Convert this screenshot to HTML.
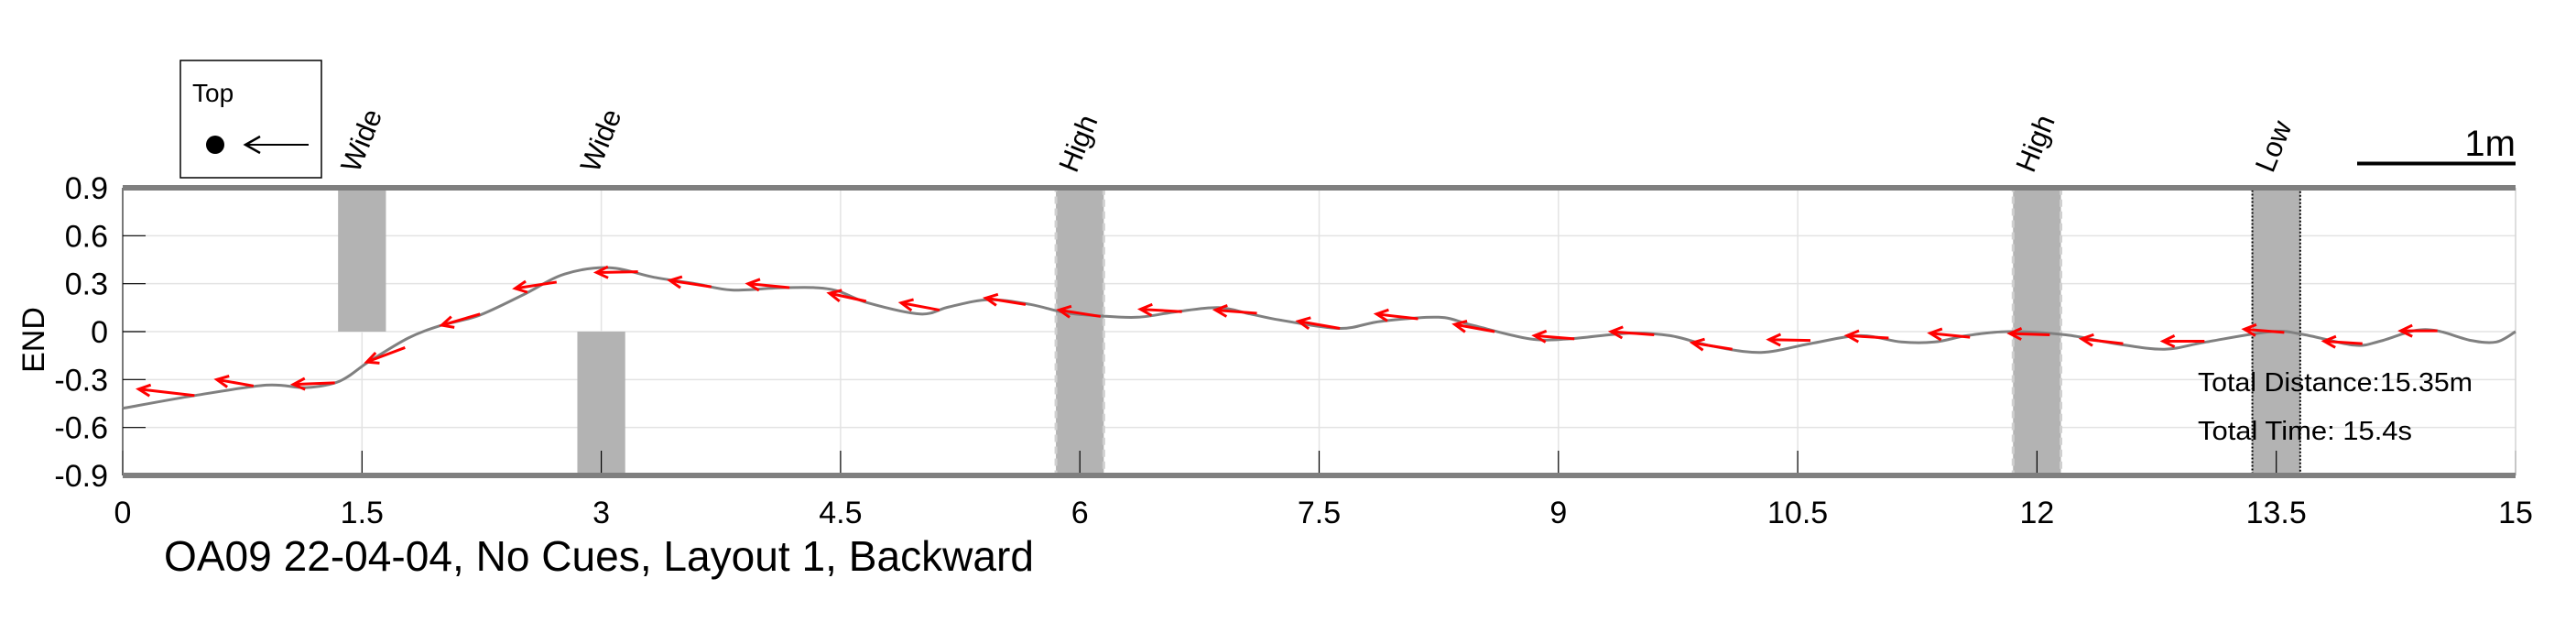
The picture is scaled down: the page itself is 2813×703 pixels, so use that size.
<!DOCTYPE html>
<html><head><meta charset="utf-8">
<style>
html,body{margin:0;padding:0;background:#fff;}
svg{display:block;}
text{font-family:"Liberation Sans Narrow","Liberation Sans",sans-serif;fill:#000;}
</style></head>
<body>
<svg id="chart" width="2813" height="703" viewBox="0 0 2813 703" xmlns="http://www.w3.org/2000/svg">
<g id="grid"></g>
<g id="zones"></g>
<g id="axes"></g>
<g id="series"></g>
<g id="arrows"></g>
<g>
  <rect x="197" y="66" width="154" height="128" fill="#fff" stroke="#000" stroke-width="1.5"/>
  <text x="210" y="111" font-size="28">Top</text>
  <circle cx="235" cy="158" r="10" fill="#000"/>
  <line x1="337" y1="158" x2="270" y2="158" stroke="#000" stroke-width="2"/>
  <path d="M284,149 L268,158 L284,167" fill="none" stroke="#000" stroke-width="2.5"/>
</g>
<g>
  <line x1="2574" y1="178.5" x2="2747" y2="178.5" stroke="#000" stroke-width="4"/>
  <text x="2747" y="170" font-size="40" text-anchor="end">1m</text>
</g>
<text transform="translate(48,371) rotate(-90)" font-size="34" text-anchor="middle">END</text>
<text x="179" y="623" font-size="46" textLength="950" lengthAdjust="spacingAndGlyphs">OA09 22-04-04, No Cues, Layout 1, Backward</text>
<text x="2400" y="427" font-size="29" textLength="300" lengthAdjust="spacingAndGlyphs">Total Distance:15.35m</text>
<text x="2400" y="480" font-size="29" textLength="234" lengthAdjust="spacingAndGlyphs">Total Time: 15.4s</text>
</svg>
<script>
const xTicks=[0,1.5,3,4.5,6,7.5,9,10.5,12,13.5,15];
const xTickLabels=["0","1.5","3","4.5","6","7.5","9","10.5","12","13.5","15"];
const yTicks=[0.9,0.6,0.3,0,-0.3,-0.6,-0.9];
const yTickLabels=["0.9","0.6","0.3","0","-0.3","-0.6","-0.9"];
const pathX=[0,0.45,0.9,1.15,1.36,1.54,1.79,2.0,2.23,2.51,2.77,3.05,3.33,3.59,3.82,4.15,4.44,4.67,5.0,5.18,5.43,5.69,5.9,6.1,6.36,6.61,6.87,7.07,7.27,7.63,7.89,8.25,8.46,8.82,9.07,9.44,9.70,9.96,10.27,10.58,10.89,11.15,11.36,11.56,11.82,12.18,12.49,12.80,13.06,13.47,13.68,13.99,14.15,14.36,14.51,14.72,14.88,15.0];
const pathY=[-0.48,-0.40,-0.335,-0.35,-0.31,-0.19,-0.04,0.04,0.10,0.23,0.36,0.40,0.34,0.30,0.26,0.275,0.265,0.18,0.11,0.155,0.2,0.17,0.12,0.10,0.09,0.125,0.15,0.11,0.07,0.02,0.065,0.09,0.04,-0.045,-0.045,-0.01,-0.025,-0.09,-0.13,-0.075,-0.025,-0.065,-0.065,-0.025,0.0,-0.02,-0.075,-0.11,-0.065,0.0,-0.02,-0.085,-0.06,0.005,0.005,-0.055,-0.065,0.0];
const arrowTailX=[0.45,0.82,1.33,1.77,2.24,2.72,3.23,3.69,4.18,4.66,5.12,5.66,6.13,6.64,7.11,7.63,8.12,8.60,9.10,9.60,10.09,10.58,11.07,11.58,12.08,12.54,13.05,13.55,14.04,14.51];
const arrowTailY=[-0.40,-0.34,-0.32,-0.10,0.11,0.31,0.375,0.28,0.275,0.19,0.135,0.17,0.095,0.125,0.115,0.02,0.08,0.00,-0.045,-0.02,-0.11,-0.055,-0.04,-0.035,-0.02,-0.075,-0.06,-0.005,-0.075,0.005];
const arrowHeadX=[0.10,0.59,1.07,1.53,2.0,2.46,2.97,3.43,3.92,4.43,4.88,5.41,5.87,6.38,6.85,7.37,7.86,8.35,8.85,9.33,9.84,10.32,10.81,11.33,11.83,12.28,12.79,13.30,13.80,14.28];
const arrowHeadY=[-0.36,-0.30,-0.33,-0.19,0.04,0.27,0.37,0.32,0.30,0.24,0.18,0.21,0.135,0.14,0.135,0.065,0.11,0.045,-0.025,0.0,-0.07,-0.05,-0.025,-0.01,-0.012,-0.045,-0.06,0.015,-0.06,0.005];
const zoneX0=[1.35,2.85,5.85,11.85,13.35];
const zoneX1=[1.65,3.15,6.15,12.15,13.65];
const zoneY0=[0,-0.9,-0.9,-0.9,-0.9];
const zoneY1=[0.9,0,0.9,0.9,0.9];
const zoneLabels=["Wide","Wide","High","High","Low"];
const zoneBorder=["none","none","dashed","dashed","dotted"];

const L=134,R=2747,T=205,B=519;
const sx=v=>L+(v-0)/(15-0)*(R-L);
const sy=v=>B-(v+0.9)/1.8*(B-T);
const NS="http://www.w3.org/2000/svg";
function mk(tag,attrs,parent){const e=document.createElementNS(NS,tag);for(const k in attrs)e.setAttribute(k,attrs[k]);parent.appendChild(e);return e;}
const grid=document.getElementById('grid'),axes=document.getElementById('axes'),zones=document.getElementById('zones'),series=document.getElementById('series'),arrows=document.getElementById('arrows');

xTicks.forEach((v,i)=>{
  const g=mk('line',{x1:sx(v),x2:sx(v),y1:T,y2:B,stroke:'#e3e3e3','stroke-width':1.5},grid);
  
  
  const t=mk('line',{x1:sx(v),x2:sx(v),y1:B-27,y2:B,stroke:'#000','stroke-width':1.2},axes);
  
  
  const l=mk('text',{x:sx(v),y:571,'font-size':34,'text-anchor':'middle'},axes);
  l.textContent=xTickLabels[i];
  
  
});
yTicks.forEach((v,i)=>{
  const g=mk('line',{x1:L,x2:R,y1:sy(v),y2:sy(v),stroke:'#e3e3e3','stroke-width':1.5},grid);
  
  
  const t=mk('line',{x1:L,x2:L+25,y1:sy(v),y2:sy(v),stroke:'#000','stroke-width':1.2},axes);
  
  
  const l=mk('text',{x:118,y:sy(v)+12,'font-size':34,'text-anchor':'end'},axes);
  l.textContent=yTickLabels[i];
  
  
});
const ax=mk('line',{x1:L,x2:L,y1:T,y2:B,stroke:'#000','stroke-width':1},axes);


const ax2=mk('line',{x1:R,x2:R,y1:T,y2:B,stroke:'#ccc','stroke-width':1},axes);



zoneX0.forEach((x0,i)=>{
  const a={x:sx(x0),y:sy(zoneY1[i]),width:sx(zoneX1[i])-sx(x0),height:sy(zoneY0[i])-sy(zoneY1[i]),fill:'#b3b3b3'};
  if(zoneBorder[i]==='dashed'){a.stroke='#d0d0d0';a['stroke-width']=3;a['stroke-dasharray']='8,5';}
  if(zoneBorder[i]==='dotted'){a.stroke='#000';a['stroke-width']=2;a['stroke-dasharray']='2,2';}
  const r=mk('rect',a,zones);
  
  
  const cx=(sx(x0)+sx(zoneX1[i]))/2;
  const t=mk('text',{transform:`translate(${cx-4},190) rotate(-68)`,'font-size':31},zones);
  t.textContent=zoneLabels[i];
  
  
});

[T,B].forEach(y=>{
  const f=mk('line',{x1:L,x2:R,y1:y,y2:y,stroke:'#7f7f7f','stroke-width':6},axes);
  
  
});

const P=pathX.map((x,i)=>[sx(x),sy(pathY[i])]);
let d='M'+P[0][0].toFixed(1)+','+P[0][1].toFixed(1);
for(let i=0;i<P.length-1;i++){
  const p0=P[Math.max(0,i-1)],p1=P[i],p2=P[i+1],p3=P[Math.min(P.length-1,i+2)];
  const c1x=p1[0]+(p2[0]-p0[0])/6,c1y=p1[1]+(p2[1]-p0[1])/6;
  const c2x=p2[0]-(p3[0]-p1[0])/6,c2y=p2[1]-(p3[1]-p1[1])/6;
  d+=` C${c1x.toFixed(1)},${c1y.toFixed(1)} ${c2x.toFixed(1)},${c2y.toFixed(1)} ${p2[0].toFixed(1)},${p2[1].toFixed(1)}`;
}
const p=mk('path',{d:d,fill:'none',stroke:'#808080','stroke-width':3,'stroke-linejoin':'round'},series);



arrowTailX.forEach((x,i)=>{
  const x1=sx(x),y1=sy(arrowTailY[i]),x2=sx(arrowHeadX[i]),y2=sy(arrowHeadY[i]);
  const ang=Math.atan2(y1-y2,x1-x2),h=14,s=0.45;
  const g=mk('g',{},arrows);
  
  
  mk('line',{x1:x1,y1:y1,x2:x2,y2:y2,stroke:'#ff0000','stroke-width':3},g);
  const ax1=x2+h*Math.cos(ang+s),ay1=y2+h*Math.sin(ang+s),ax2=x2+h*Math.cos(ang-s),ay2=y2+h*Math.sin(ang-s);
  mk('path',{d:`M${ax1},${ay1} L${x2},${y2} L${ax2},${ay2}`,fill:'none',stroke:'#ff0000','stroke-width':3},g);
});
</script>
</body></html>
